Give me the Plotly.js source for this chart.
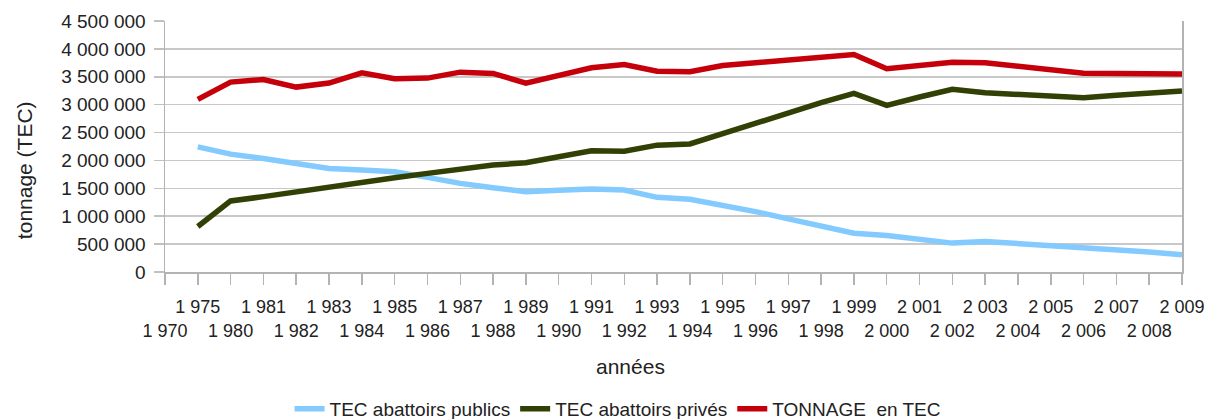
<!DOCTYPE html>
<html>
<head>
<meta charset="utf-8">
<script src="https://cdn.plot.ly/plotly-3.0.1.min.js"></script>
<style>
  html, body { margin: 0; padding: 0; background: #ffffff; }
  #chart { width: 1209px; height: 419px; }
</style>
</head>
<body>
<div id="chart"></div>
<script>
// Categories on the x axis (1970 has no data)
const categories = ['1970','1975','1980','1981','1982','1983','1984','1985','1986','1987','1988','1989','1990','1991','1992','1993','1994','1995','1996','1997','1998','1999','2000','2001','2002','2003','2004','2005','2006','2007','2008','2009'];
const tickLabels = ['1 970','1 975','1 980','1 981','1 982','1 983','1 984','1 985','1 986','1 987','1 988','1 989','1 990','1 991','1 992','1 993','1 994','1 995','1 996','1 997','1 998','1 999','2 000','2 001','2 002','2 003','2 004','2 005','2 006','2 007','2 008','2 009'];

// Years with data: 1975, 1980 .. 2009
const dataYears = ['1975','1980','1981','1982','1983','1984','1985','1986','1987','1988','1989','1990','1991','1992','1993','1994','1995','1996','1997','1998','1999','2000','2001','2002','2003','2004','2005','2006','2007','2008','2009'];

const tecPublics = [2244000,2113000,2036000,1946000,1857000,1827000,1798000,1696000,1589000,1512000,1440000,1464000,1488000,1470000,1339000,1304000,1202000,1083000,952000,815000,696000,655000,589000,518000,548000,512000,476000,446000,399000,357000,310000];
const tecPrives = [815000,1274000,1351000,1440000,1530000,1607000,1690000,1768000,1845000,1917000,1958000,2065000,2173000,2167000,2274000,2295000,2482000,2673000,2857000,3036000,3202000,2988000,3137000,3274000,3214000,3179000,3149000,3125000,3167000,3208000,3244000];
const tonnageTotal = [3095000,3405000,3452000,3315000,3387000,3571000,3464000,3476000,3583000,3560000,3387000,3524000,3661000,3720000,3601000,3590000,3702000,3750000,3804000,3851000,3899000,3643000,3702000,3762000,3750000,3684000,3613000,3565000,3560000,3554000,3548000];

const seriesNames = ['TEC abattoirs publics', 'TEC abattoirs privés', 'TONNAGE  en TEC'];
const seriesColors = ['#83caff', '#314004', '#c5000b'];
const seriesValues = [tecPublics, tecPrives, tonnageTotal];

const font = 'Liberation Sans, Arial, sans-serif';

const traces = seriesValues.map((vals, i) => ({
  type: 'scatter',
  mode: 'lines',
  name: seriesNames[i],
  x: dataYears,
  y: vals,
  line: { color: seriesColors[i], width: 5.5 },
  hoverinfo: 'x+y'
}));

// staggered tick labels: even index on second row
const tickText = tickLabels.map((t, i) => (i % 2 === 0 ? '\u00a0<br>' + t : t));

const layout = {
  width: 1209,
  height: 419,
  margin: { l: 165, r: 27, t: 21, b: 147, autoexpand: false },
  paper_bgcolor: '#ffffff',
  plot_bgcolor: '#ffffff',
  separators: ', ',
  font: { family: font, color: '#222222', size: 18 },
  showlegend: true,
  legend: {
    orientation: 'h',
    xref: 'paper', yref: 'paper',
    x: 0.445, xanchor: 'center',
    y: -0.545, yanchor: 'middle',
    font: { family: font, size: 19, color: '#222222' },
    traceorder: 'normal',
    itemwidth: 30
  },
  xaxis: {
    type: 'category',
    categoryorder: 'array',
    categoryarray: categories,
    range: [0, categories.length - 1],
    tickmode: 'array',
    tickvals: categories,
    ticktext: tickText,
    tickangle: 0,
    ticks: 'outside',
    ticklen: 11,
    tickwidth: 1.5,
    tickcolor: '#b3b3b3',
    ticklabelstandoff: 7,
    showline: true,
    linecolor: '#b3b3b3',
    linewidth: 1.5,
    showgrid: false,
    zeroline: false,
    automargin: false,
    tickfont: { family: font, size: 18, color: '#222222' },
    fixedrange: true
  },
  yaxis: {
    range: [0, 4500000],
    tickmode: 'linear',
    tick0: 0,
    dtick: 500000,
    exponentformat: 'none',
    separatethousands: true,
    ticks: 'outside',
    ticklen: 10,
    tickwidth: 1.5,
    tickcolor: '#c0c0c0',
    ticklabelstandoff: 4,
    showline: true,
    mirror: true,
    linecolor: '#b3b3b3',
    linewidth: 1.5,
    showgrid: true,
    gridcolor: '#c8c8c8',
    gridwidth: 1.5,
    zeroline: false,
    automargin: false,
    tickfont: { family: font, size: 19, color: '#222222' },
    fixedrange: true
  },
  annotations: [
    {
      text: 'années',
      xref: 'paper', yref: 'paper',
      x: 0.458, y: -0.378,
      xanchor: 'center', yanchor: 'middle',
      showarrow: false,
      font: { family: font, size: 21, color: '#222222' }
    },
    {
      text: 'tonnage (TEC)',
      xref: 'paper', yref: 'paper',
      x: -0.1386, y: 0.406,
      xanchor: 'center', yanchor: 'middle',
      textangle: -90,
      showarrow: false,
      font: { family: font, size: 21, color: '#222222' }
    }
  ]
};

Plotly.newPlot('chart', traces, layout, { displayModeBar: false, staticPlot: true });
</script>
</body>
</html>
